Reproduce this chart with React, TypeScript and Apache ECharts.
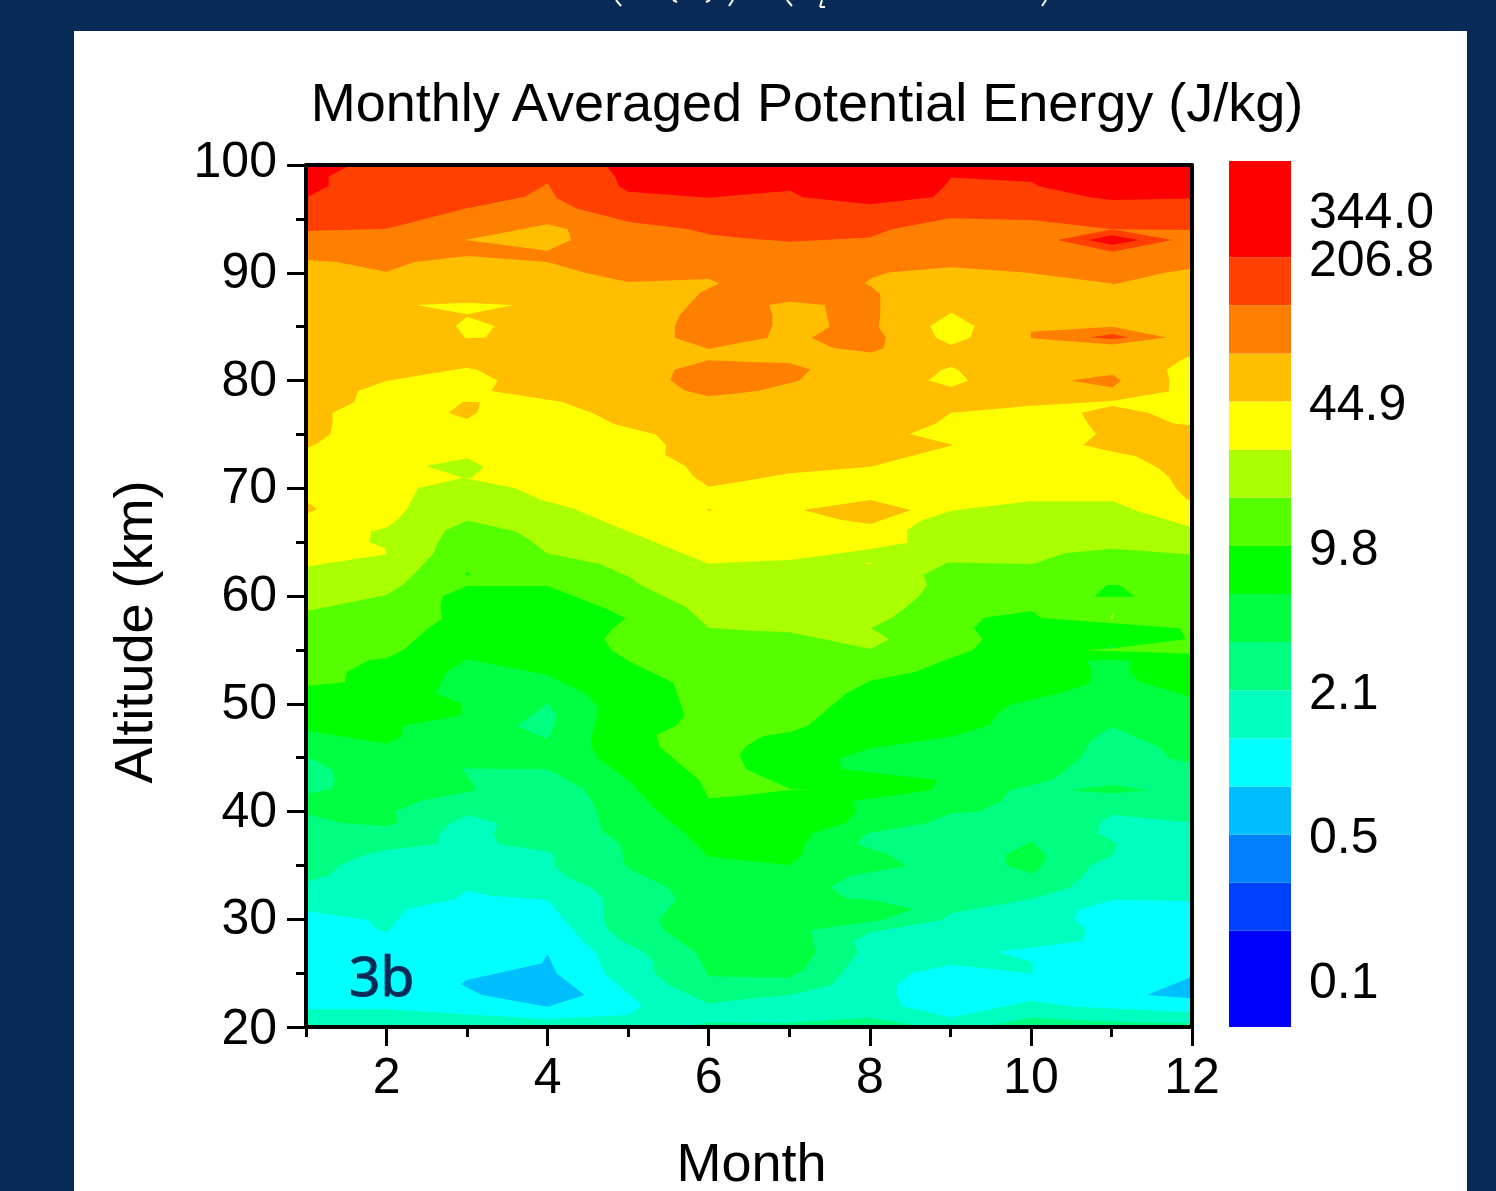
import React, { useEffect, useRef } from "react";
import * as echarts from "echarts";

type Pt = [number, number];

// Contour band colours, lowest to highest
const bandColors = ["#0000FF", "#0040FF", "#0080FF", "#00BFFF", "#00FFFF", "#00FFBF", "#00FF80", "#00FF40", "#00FF00", "#55FF00", "#AAFF00", "#FFFF00", "#FFBF00", "#FF8000", "#FF4000", "#FF0000"];
const colorBarEdges = [0, 2, 3, 4, 5, 6, 7, 8, 9, 10, 11, 12, 13, 14, 15, 16, 18];
const colorBarTicks = [0.96, 3.96, 6.96, 9.96, 12.96, 15.96];
const colorBarLabels = ["0.1", "0.5", "2.1", "9.8", "44.9", "206.8"];
const colorBarTopTick = [16.96];
const colorBarTopLabel = "344.0";
const monthMajor = [2, 4, 6, 8, 10, 12];
const monthMinor = [1, 3, 5, 7, 9, 11];

// Contour lines (month, altitude km), each the lower limit of a band
const line6: Pt[] = [[1,33.48],[1.28,34.04],[1.42,34.97],[1.76,36.05],[2,36.42],[2.63,36.95],[2.66,37.97],[2.79,38.9],[3,39.67],[3.38,38.9],[3.33,37.97],[3.39,36.95],[4.01,36.27],[4.08,35.96],[4.08,34.94],[4.24,33.95],[4.55,32.87],[4.68,31.94],[4.7,29.93],[4.75,29],[4.94,27.92],[5.19,26.99],[5.31,26.06],[5.33,24.98],[5.5,23.89],[6,22.19],[6.39,22.56],[7.01,22.97],[7.53,23.89],[7.86,26.93],[7.79,27.92],[8,28.78],[8.89,29.93],[9.01,30.55],[9.99,31.88],[10.48,32.93],[10.65,33.95],[10.74,34.97],[11.01,35.96],[11.08,36.95],[10.83,37.97],[10.88,39.21],[11.02,39.67],[12,38.99]];
const line7: Pt[] = [[1,39.76],[1.46,38.9],[2,38.65],[2.15,38.96],[2.11,39.98],[2.41,40.97],[3.12,41.99],[2.94,44],[4,43.91],[4.44,42.15],[4.57,40.75],[4.67,38.28],[4.9,37.04],[4.96,35.03],[5.08,34.41],[5.48,33.02],[5.6,31.88],[5.38,29.93],[5.44,29],[5.83,26.99],[6,24.73],[6.39,24.61],[7.01,24.58],[7.17,25.29],[7.33,26.9],[7.27,29],[8.15,29.93],[8.54,30.95],[8,31.84],[7.71,31.94],[7.51,32.96],[7.75,34.01],[8.46,34.97],[8.25,35.96],[7.83,36.95],[7.96,37.97],[8.7,38.9],[9.02,39.83],[9.35,39.98],[9.64,40.97],[9.73,41.93],[10.28,42.98],[10.61,44.93],[10.75,46.63],[11,47.81],[11.1,47.56],[11.58,46.01],[11.72,44.93],[12,44.47]];
const line8: Pt[] = [[1,47.5],[2,46.32],[2.19,46.94],[2.2,47.94],[2.93,48.96],[2.94,49.98],[2.61,50.97],[2.75,52.98],[3,54.12],[4,52.67],[4.48,50.91],[4.62,49.73],[4.62,48.96],[4.55,47.1],[4.53,46.17],[4.63,44.93],[5,42.92],[5.35,40.14],[5.68,38.12],[6,35.8],[6.39,35.5],[7.01,35.03],[7.16,35.96],[7.2,37.04],[7.29,37.97],[7.71,38.96],[7.82,39.98],[7.79,40.97],[8.77,41.99],[8.83,42.92],[7.65,43.94],[7.62,44.93],[8.01,45.86],[9.01,46.94],[9.28,47.56],[9.49,48.03],[9.57,48.96],[9.74,49.89],[10.36,50.97],[10.73,51.9],[10.77,52.98],[10.7,53.91],[11,54.12],[11.24,53.91],[11.22,52.98],[11.35,52.05],[12,50.6]];
const line9: Pt[] = [[1,51.65],[1.48,52],[1.51,52.98],[1.79,54.06],[2,54.25],[2.21,55],[2.5,56.91],[2.69,57.9],[2.67,59.1],[2.7,60],[3,60.93],[4,60.93],[4.71,58.86],[4.97,57.93],[4.81,57],[4.7,55.98],[4.79,55],[5.02,53.9],[5.56,51.96],[5.7,48.96],[5.6,47.98],[5.35,47.1],[5.39,46],[5.88,42.92],[6,41.22],[6.39,41.47],[7.01,41.99],[7.32,41.96],[7.01,42.08],[6.47,43.91],[6.38,45.24],[6.47,46.1],[6.68,47],[7.03,47.4],[7.24,48.03],[7.71,50.97],[8.01,52.14],[8.57,52.98],[9.01,54.28],[9.28,55],[9.4,55.98],[9.29,57],[9.42,57.99],[10.01,58.61],[10.13,57.96],[11.01,57.47],[11.85,57],[11.92,55.98],[11.02,55.15],[10.67,54.96],[12,54.65]];
const line10: Pt[] = [[1,58.61],[2,60.1],[2.21,61.09],[2.35,62.1],[2.59,64.02],[2.63,64.89],[2.73,66.07],[3,67],[3.6,65.98],[3.78,65.2],[3.99,63.96],[4.65,62.97],[5.02,61.73],[5.15,61.02],[5.71,59.01],[6,57.06],[6.39,56.84],[7.01,56.63],[8.01,55.08],[8.24,55.98],[8.02,57],[8.27,57.99],[8.44,58.92],[8.6,59.94],[8.71,61],[8.67,61.98],[8.97,63.1],[10.02,62.97],[10.42,63.96],[11.01,64.39],[12,63.84]];
const line11: Pt[] = [[1,62.69],[1.26,63.05],[2,63.87],[1.98,64.43],[1.79,64.98],[1.81,65.98],[2,66.35],[2.13,67.06],[2.25,68.05],[2.39,69.99],[2.95,70.98],[3.6,69.99],[3.9,68.97],[4.34,68.05],[4.75,66.75],[6,63],[6.39,63.16],[7.01,63.34],[8.01,64.36],[8.47,64.95],[8.46,66.07],[8.64,67],[9.01,67.92],[9.99,68.79],[11.02,68.79],[11.31,67.92],[12,66.37]];
const line12: Pt[] = [[1,73.7],[1.13,74.1],[1.3,75],[1.33,76.02],[1.33,77],[1.6,77.97],[1.65,79.05],[2,79.95],[2.5,80.57],[3,81.19],[3.13,80.97],[3.38,79.98],[3.3,79.02],[4.17,78.03],[4.55,77],[4.82,75.96],[5.34,75],[5.47,74.01],[5.46,73.09],[5.71,72.07],[5.81,71.08],[6,70.15],[6.39,70.61],[7.01,71.39],[8.01,72],[9.04,74.02],[8.49,75.03],[8.81,75.96],[9.01,77.01],[10.01,77.66],[11,78.09],[11.71,78.99],[11.72,79.98],[11.69,81.03],[11.89,82.02],[12,82.27]];
const line13: Pt[] = [[1,91.18],[1.38,90.99],[2,90.1],[2.35,90.99],[3,91.55],[4,90.99],[4.46,90],[5,89.14],[6,89.42],[6.13,89.02],[5.89,88.15],[5.64,86.07],[5.58,85.05],[5.58,83.96],[6,82.92],[6.39,83.5],[6.73,83.97],[6.79,85.15],[6.79,86.07],[6.75,87],[7.01,87.31],[7.44,87],[7.5,84.99],[7.28,83.97],[7.53,83.04],[8.01,82.61],[8.17,82.98],[8.2,84],[8.11,84.99],[8.13,86.07],[8.13,88.02],[8.02,88.7],[7.94,89.02],[8.02,89.48],[8.23,90.03],[9.01,90.5],[9.93,90.03],[11,89.01],[11.02,88.9],[11.68,90.03],[12,90.37]];
const line14: Pt[] = [[1,93.87],[2,94.09],[3,95.98],[3.72,97.06],[4,98.3],[4.11,96.97],[4.35,95.98],[5,94.74],[5.75,94.03],[6.02,93.53],[6.39,93.25],[7.01,92.88],[8,93.28],[8.27,94.03],[9,95.05],[10.01,94.89],[11.01,94.03],[12,93.96]];

// Closed patches
const base5: Pt[] = [[1,20],[12,20],[12,100],[1,100]];
const thin6a: Pt[] = [[5.7,20],[6,20.45],[6.9,20.35],[8,20.89],[8.7,20]];
const thin6b: Pt[] = [[9.4,20],[10.01,20.89],[11.01,20.49],[12,20.34],[12,20]];
const cyanLeft: Pt[] = [[1,30.76],[1.77,29.93],[1.91,28.91],[2.02,28.84],[2.25,30.92],[2.85,31.88],[3,32.68],[3.28,32.19],[4,31.78],[4.42,28.07],[4.59,26.99],[4.71,24.98],[5.17,21.98],[5,21.11],[4,20.74],[3,21.17],[2,21.67],[1,21.64]];
const cyanRight: Pt[] = [[12,31.69],[11.01,31.78],[10.59,30.85],[10.54,29.99],[10.69,29],[10.65,27.98],[9.59,26.99],[10.02,26],[10.02,24.98],[9.01,25.75],[8.52,24.98],[8.34,23.96],[8.33,22.97],[8.4,21.94],[9.01,20.89],[10.01,22.44],[10.53,21.88],[12,21.36]];
const skyLeft: Pt[] = [[2.92,24],[3,24.36],[3.93,25.91],[4,26.77],[4.11,24.98],[4.46,22.97],[4,21.88],[3.18,22.97]];
const skyRight: Pt[] = [[11.44,22.97],[12,24.67],[12,22.66]];
const c6Left: Pt[] = [[1,45.09],[1.15,44.62],[1.32,43.85],[1.36,42.92],[1.31,42.05],[1,41.62]];
const c6Month4: Pt[] = [[3.62,47.97],[3.87,49.27],[4,50.04],[4.1,48.96],[4.1,48.18],[4,46.75],[3.8,47.3]];
const c7Sliver: Pt[] = [[10.46,41.99],[11.01,42.46],[11.46,41.99],[11.01,41.68]];
const c7Blob: Pt[] = [[9.68,35.96],[10.01,37.26],[10.19,35.96],[10.13,34.88],[10.01,34.2],[9.7,35]];
const c7Tiny: Pt[] = [[10.88,55.07],[11,55.33],[11.1,55.07]];
const c8Patch: Pt[] = [[10.79,59.94],[10.94,61.02],[11.1,61.02],[11.29,59.94]];
const limePatch: Pt[] = [[2.49,72.07],[3,72.78],[3.21,72],[3.06,70.98],[2.95,70.98]];
const limeTiny: Pt[] = [[10.99,57.9],[11.01,58.4],[11.03,57.9]];
const greenDot: Pt[] = [[2.97,62.1],[3,61.9],[3.05,62],[3,62.2]];
const yellowDot: Pt[] = [[7.93,63.05],[8,63.1],[8.04,63],[7.97,62.95]];
const amberDot: Pt[] = [[5.97,68],[6.01,68.1],[6.04,68],[6.01,67.9]];
const amberLeft: Pt[] = [[1,68.76],[1.14,68.08],[1,67.61]];
const amberRight: Pt[] = [[10.63,77.01],[11.01,77.63],[11.46,77.01],[11.77,76.02],[12,75.83],[12,68.85],[11.93,68.97],[11.8,69.99],[11.72,71.02],[11.58,71.85],[11.3,73],[11,73.4],[10.65,74.01],[10.81,75.03],[10.71,75.96]];
const amberMonth3: Pt[] = [[2.77,77],[2.95,78.03],[3.16,77.97],[3.13,77.05],[3,76.42]];
const amberDiamond: Pt[] = [[7.17,67.98],[8.01,68.91],[8.51,67.98],[8.01,66.68],[7.65,67.06]];
const yellowA: Pt[] = [[2.37,87],[3,87.22],[3.57,87],[3,86.14]];
const yellowB: Pt[] = [[2.86,85.05],[3,85.92],[3.34,85.05],[3.23,84],[2.98,83.91]];
const yellowC: Pt[] = [[8.75,85.05],[9.01,86.29],[9.3,85.05],[9.25,84],[9.01,83.29],[8.82,84]];
const yellowD: Pt[] = [[8.73,80.01],[8.89,80.97],[9.01,81.28],[9.1,80.97],[9.22,79.98],[9.01,79.39]];
const amberInOrange: Pt[] = [[2.97,93.04],[4,94.49],[4.25,94.03],[4.29,93.04],[4,92.05]];
const orangeA: Pt[] = [[5.52,80.05],[5.58,81.03],[6,81.87],[7.01,81.59],[7.26,81.03],[7.12,79.98],[6.62,79.05],[6.39,78.84],[6,78.53],[5.71,79.05]];
const orangeB: Pt[] = [[10,84.53],[10,83.91],[11.01,83.35],[11.68,84],[11.01,84.99]];
const orangeC: Pt[] = [[10.49,80.01],[11.01,80.54],[11.12,80.01],[11.01,79.36]];
const redOrangeA: Pt[] = [[10.73,84],[11.01,84.31],[11.21,84],[11.01,83.82]];
const redOrangeB: Pt[] = [[10.33,93.04],[11.01,94.03],[11.76,93.04],[11.01,91.95]];
const redInner: Pt[] = [[10.71,93.04],[11.01,93.47],[11.34,93.04],[11.01,92.57]];
const redLeft: Pt[] = [[1,100],[1.55,100],[1.28,98.92],[1.28,98.05],[1,96.97]];
const redMain: Pt[] = [[4.72,100],[4.84,98.92],[4.88,98.05],[5,97.52],[6,96.97],[6.39,97.21],[7.01,97.62],[7.17,97],[8,96.35],[8.78,97],[8.92,97.99],[9.01,98.85],[10.01,98.42],[10.09,98.05],[10.73,97],[11.01,96.75],[12,96.9],[12,100]];

const topClose: Pt[] = [[12, 100], [1, 100]];
const above = (l: Pt[]): Pt[] => [...l, ...topClose];

// Painted in this order: [band index, polygon]
const layers: [number, Pt[]][] = [
  [5, base5], [6, thin6a], [6, thin6b], [4, cyanLeft], [4, cyanRight], [3, skyLeft], [3, skyRight],
  [6, above(line6)], [7, c7Sliver], [7, c7Blob],
  [7, above(line7)], [6, c6Left], [6, c6Month4],
  [8, above(line8)], [7, c7Tiny],
  [9, above(line9)], [8, c8Patch], [10, limeTiny],
  [10, above(line10)], [8, greenDot],
  [11, above(line11)], [10, limePatch], [11, yellowDot],
  [12, above(line12)], [12, amberLeft], [12, amberRight], [12, amberMonth3], [12, amberDiamond], [12, amberDot],
  [11, yellowA], [11, yellowB], [11, yellowC], [11, yellowD],
  [13, above(line13)], [12, amberInOrange], [13, orangeA], [13, orangeB], [13, orangeC], [14, redOrangeA],
  [14, above(line14)], [14, redOrangeB], [15, redInner],
  [15, redLeft], [15, redMain],
];

const FONT = "Liberation Sans";
const FRAME_W = 4;
const TICK_W = 3;
const tickText = { fontFamily: FONT, fontSize: 50, color: "#000" };

export default function App() {
  const ref = useRef<HTMLDivElement>(null);
  useEffect(() => {
    const chart = echarts.init(ref.current!, null, { renderer: "svg" });
    const white = (x1: number, y1: number, x2: number, y2: number) => ({
      type: "line", shape: { x1, y1, x2, y2 }, style: { stroke: "#fff", lineWidth: 2 }, z: 1,
    });
    chart.setOption({
      animation: false,
      backgroundColor: "#082A56",
      title: {
        text: "Monthly Averaged Potential Energy (J/kg)",
        left: 802, top: 70, textAlign: "center",
        textStyle: { fontFamily: FONT, fontSize: 54, fontWeight: "normal", color: "#000" },
      },
      graphic: [
        { type: "rect", z: 0, shape: { x: 74, y: 31, width: 1393, height: 1160 }, style: { fill: "#fff" } },
        white(616, 0, 621, 6), white(673, 0, 677, 2), white(710, 0, 706, 2), white(733, 0, 729, 6),
        white(787, 0, 792, 6), white(822, 0, 820, 7), white(820, 7, 825, 7), white(1046, 0, 1042, 6),
        { type: "text", z: 10, x: 349, y: 947, style: { text: "3b", fontFamily: "Noto Sans", fontSize: 55, fill: "#082A56", stroke: "#082A56", lineWidth: 1 } },
      ],
      grid: [
        { left: 306, top: 165, width: 886, height: 862, outerBoundsMode: "none" },
        { left: 1229, top: 161, width: 62, height: 866, outerBoundsMode: "none" },
      ],
      xAxis: [
        {
          type: "value", gridIndex: 0, min: 1, max: 12, position: "bottom", z: 5,
          name: "Month", nameLocation: "middle", nameGap: 108,
          nameTextStyle: { fontFamily: FONT, fontSize: 54, color: "#000", padding: [0, 0, 0, 5] },
          axisLine: { show: true, onZero: false, lineStyle: { color: "#000", width: FRAME_W } },
          axisTick: { show: true, length: 19, customValues: monthMajor, lineStyle: { color: "#000", width: TICK_W } },
          axisLabel: { show: true, margin: 24, customValues: monthMajor, ...tickText },
          splitLine: { show: false },
        },
        {
          type: "value", gridIndex: 0, min: 1, max: 12, position: "bottom", z: 5,
          axisLine: { show: false, onZero: false },
          axisTick: { show: true, length: 10, customValues: monthMinor, lineStyle: { color: "#000", width: TICK_W } },
          axisLabel: { show: false }, splitLine: { show: false },
        },
        {
          type: "value", gridIndex: 0, min: 1, max: 12, position: "top", z: 5,
          axisLine: { show: true, onZero: false, lineStyle: { color: "#000", width: FRAME_W } },
          axisTick: { show: false }, axisLabel: { show: false }, splitLine: { show: false },
        },
        { type: "value", gridIndex: 1, min: 0, max: 1, show: false },
      ],
      yAxis: [
        {
          type: "value", gridIndex: 0, min: 20, max: 100, interval: 10, position: "left", z: 5,
          name: "Altitude (km)", nameLocation: "middle", nameGap: 146, nameRotate: 90,
          nameTextStyle: { fontFamily: FONT, fontSize: 54, color: "#000", padding: [0, 72, 0, 0] },
          axisLine: { show: true, onZero: false, lineStyle: { color: "#000", width: FRAME_W } },
          axisTick: { show: true, length: 19, lineStyle: { color: "#000", width: TICK_W } },
          minorTick: { show: true, splitNumber: 2, length: 10, lineStyle: { color: "#000", width: TICK_W } },
          axisLabel: {
            show: true, margin: 29, ...tickText,
            formatter: (v: number) => (v === 100 ? `{b|${v}}` : v === 20 ? `{c|${v}}` : `{a|${v}}`),
            rich: {
              a: { ...tickText, padding: [0, 0, 4, 0] },
              b: { ...tickText, padding: [0, 0, 10, 0] },
              c: { ...tickText },
            },
          },
          splitLine: { show: false }, minorSplitLine: { show: false },
        },
        {
          type: "value", gridIndex: 0, min: 20, max: 100, position: "right", z: 5,
          axisLine: { show: true, onZero: false, lineStyle: { color: "#000", width: FRAME_W } },
          axisTick: { show: false }, axisLabel: { show: false }, splitLine: { show: false },
        },
        {
          type: "value", gridIndex: 1, min: 0, max: 18, position: "right",
          axisLine: { show: false }, axisTick: { show: false }, splitLine: { show: false },
          axisLabel: {
            show: true, margin: 18, customValues: colorBarTicks, ...tickText,
            showMinLabel: true, showMaxLabel: true, hideOverlap: false,
            formatter: (v: number) => colorBarLabels[colorBarTicks.indexOf(v)] ?? "",
          },
        },
        {
          type: "value", gridIndex: 1, min: 0, max: 18, position: "right",
          axisLine: { show: false }, axisTick: { show: false }, splitLine: { show: false },
          axisLabel: {
            show: true, margin: 18, customValues: colorBarTopTick, ...tickText,
            showMinLabel: true, showMaxLabel: true, hideOverlap: false,
            formatter: () => colorBarTopLabel,
          },
        },
      ],
      series: [
        {
          type: "custom", name: "Potential Energy", coordinateSystem: "cartesian2d",
          xAxisIndex: 0, yAxisIndex: 0, silent: true, z: 1,
          data: layers.map((l, i) => [l[1][0][0], l[1][0][1], i]),
          renderItem: (params: any, api: any) => {
            const [band, pts] = layers[params.dataIndex];
            return {
              type: "polygon", z2: params.dataIndex,
              shape: { points: pts.map((p) => api.coord(p)) },
              style: { fill: bandColors[band] },
            };
          },
        },
        {
          type: "custom", name: "Color bar", coordinateSystem: "cartesian2d",
          xAxisIndex: 3, yAxisIndex: 2, silent: true,
          data: bandColors.map((_, i) => [0, colorBarEdges[i], colorBarEdges[i + 1]]),
          renderItem: (params: any, api: any) => {
            const a = api.coord([0, api.value(1)]);
            const b = api.coord([1, api.value(2)]);
            return {
              type: "rect",
              shape: { x: a[0], y: b[1], width: b[0] - a[0], height: a[1] - b[1] },
              style: { fill: bandColors[params.dataIndex] },
            };
          },
        },
      ],
    });
    return () => chart.dispose();
  }, []);
  return <div ref={ref} style={{ position: "fixed", left: 0, top: 0, width: 1496, height: 1191 }} />;
}
